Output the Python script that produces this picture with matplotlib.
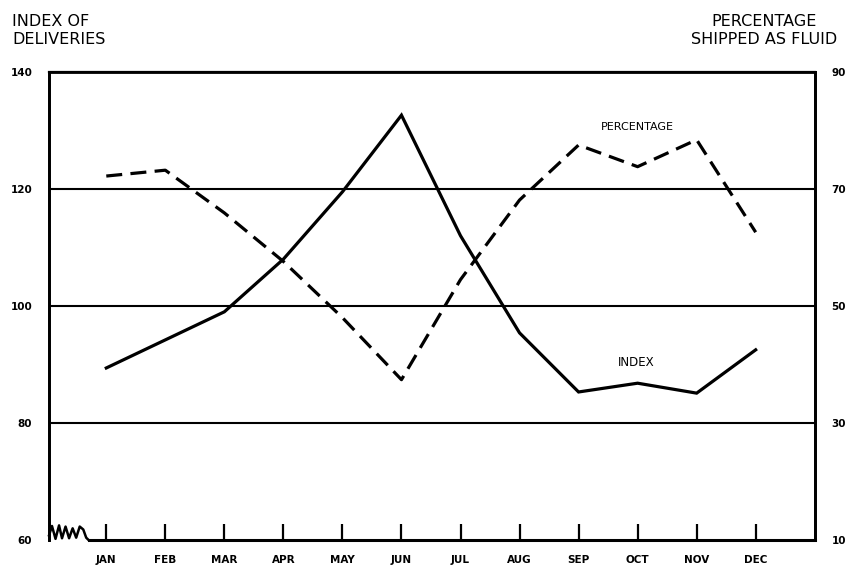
import numpy as np
import matplotlib.pyplot as plt

# values
months = ['JAN', 'FEB', 'MAR', 'APR', 'MAY', 'JUN',
          'JUL', 'AUG', 'SEP', 'OCT', 'NOV', 'DEC']
index = [89.4, 94.2, 99.0, 108.0, 119.5, 132.6,
         112.0, 95.4, 85.3, 86.8, 85.1, 92.5]
percentage = [72.2, 73.2, 65.9, 57.6, 48.0, 37.4,
              54.5, 68.1, 77.5, 73.8, 78.4, 62.6]
left_ticks = [60, 80, 100, 120, 140]
right_ticks = [10, 30, 50, 70, 90]

x = np.arange(len(months))

fig = plt.figure(figsize=(8.54, 5.66), dpi=100)
ax = fig.add_axes([0.0574, 0.0459, 0.8966, 0.8271])
ax2 = ax.twinx()

ax.set_xlim(-0.97, 12.0)
ax.set_ylim(60, 140)
ax2.set_ylim(10, 90)

# grid lines
for v in left_ticks[1:-1]:
    ax.axhline(v, color='black', lw=1.5, zorder=1)

ax.plot(x, index, color='black', lw=2.3, solid_joinstyle='miter', zorder=3)
ax2.plot(x, percentage, color='black', lw=2.3, dashes=(5, 2.6), zorder=3)

# spines
for a in (ax, ax2):
    for s in a.spines.values():
        s.set_linewidth(2)
ax.spines['bottom'].set_visible(False)
ax2.spines['bottom'].set_visible(False)
ax.spines['top'].set_linewidth(1.6)

# bottom axis line with break squiggle
ax.plot([-0.3, 12.0], [60, 60], color='black', lw=2.2, clip_on=False, zorder=4)
zx = [-0.97, -0.92, -0.86, -0.8, -0.75, -0.69, -0.63, -0.57, -0.51, -0.45, -0.39, -0.34, -0.3]
zy = [60.8, 62.4, 60.2, 62.5, 60.3, 62.3, 60.3, 62.0, 60.4, 62.3, 61.8, 60.4, 60]
ax.plot(zx, zy, color='black', lw=1.8, clip_on=False, zorder=4)

# month ticks pointing up
ax.vlines(x, 60, 62.8, color='black', lw=1.6, zorder=4)
ax.set_xticks(x)
ax.set_xticklabels(months, fontsize=7.5, fontweight='bold')
ax.tick_params(axis='x', length=0, pad=11)

ax.set_yticks(left_ticks)
ax.set_yticklabels(left_ticks, fontsize=7.5, fontweight='bold')
ax.tick_params(axis='y', length=0, pad=12)
ax2.set_yticks(right_ticks)
ax2.set_yticklabels(right_ticks, fontsize=7.5, fontweight='bold')
ax2.tick_params(axis='y', length=0, pad=12)

ax2.text(9.0, 80.6, 'PERCENTAGE', fontsize=8, ha='center', va='center')
ax.text(8.97, 90.3, 'INDEX', fontsize=8.5, ha='center', va='center')

fig.text(0.014, 0.975, 'INDEX OF\nDELIVERIES', fontsize=11.5, ha='left', va='top',
         linespacing=1.25)
fig.text(0.98, 0.975, 'PERCENTAGE\nSHIPPED AS FLUID', fontsize=11.5, ha='right', va='top',
         linespacing=1.25, multialignment='center')

plt.savefig('out.png', dpi=100)
